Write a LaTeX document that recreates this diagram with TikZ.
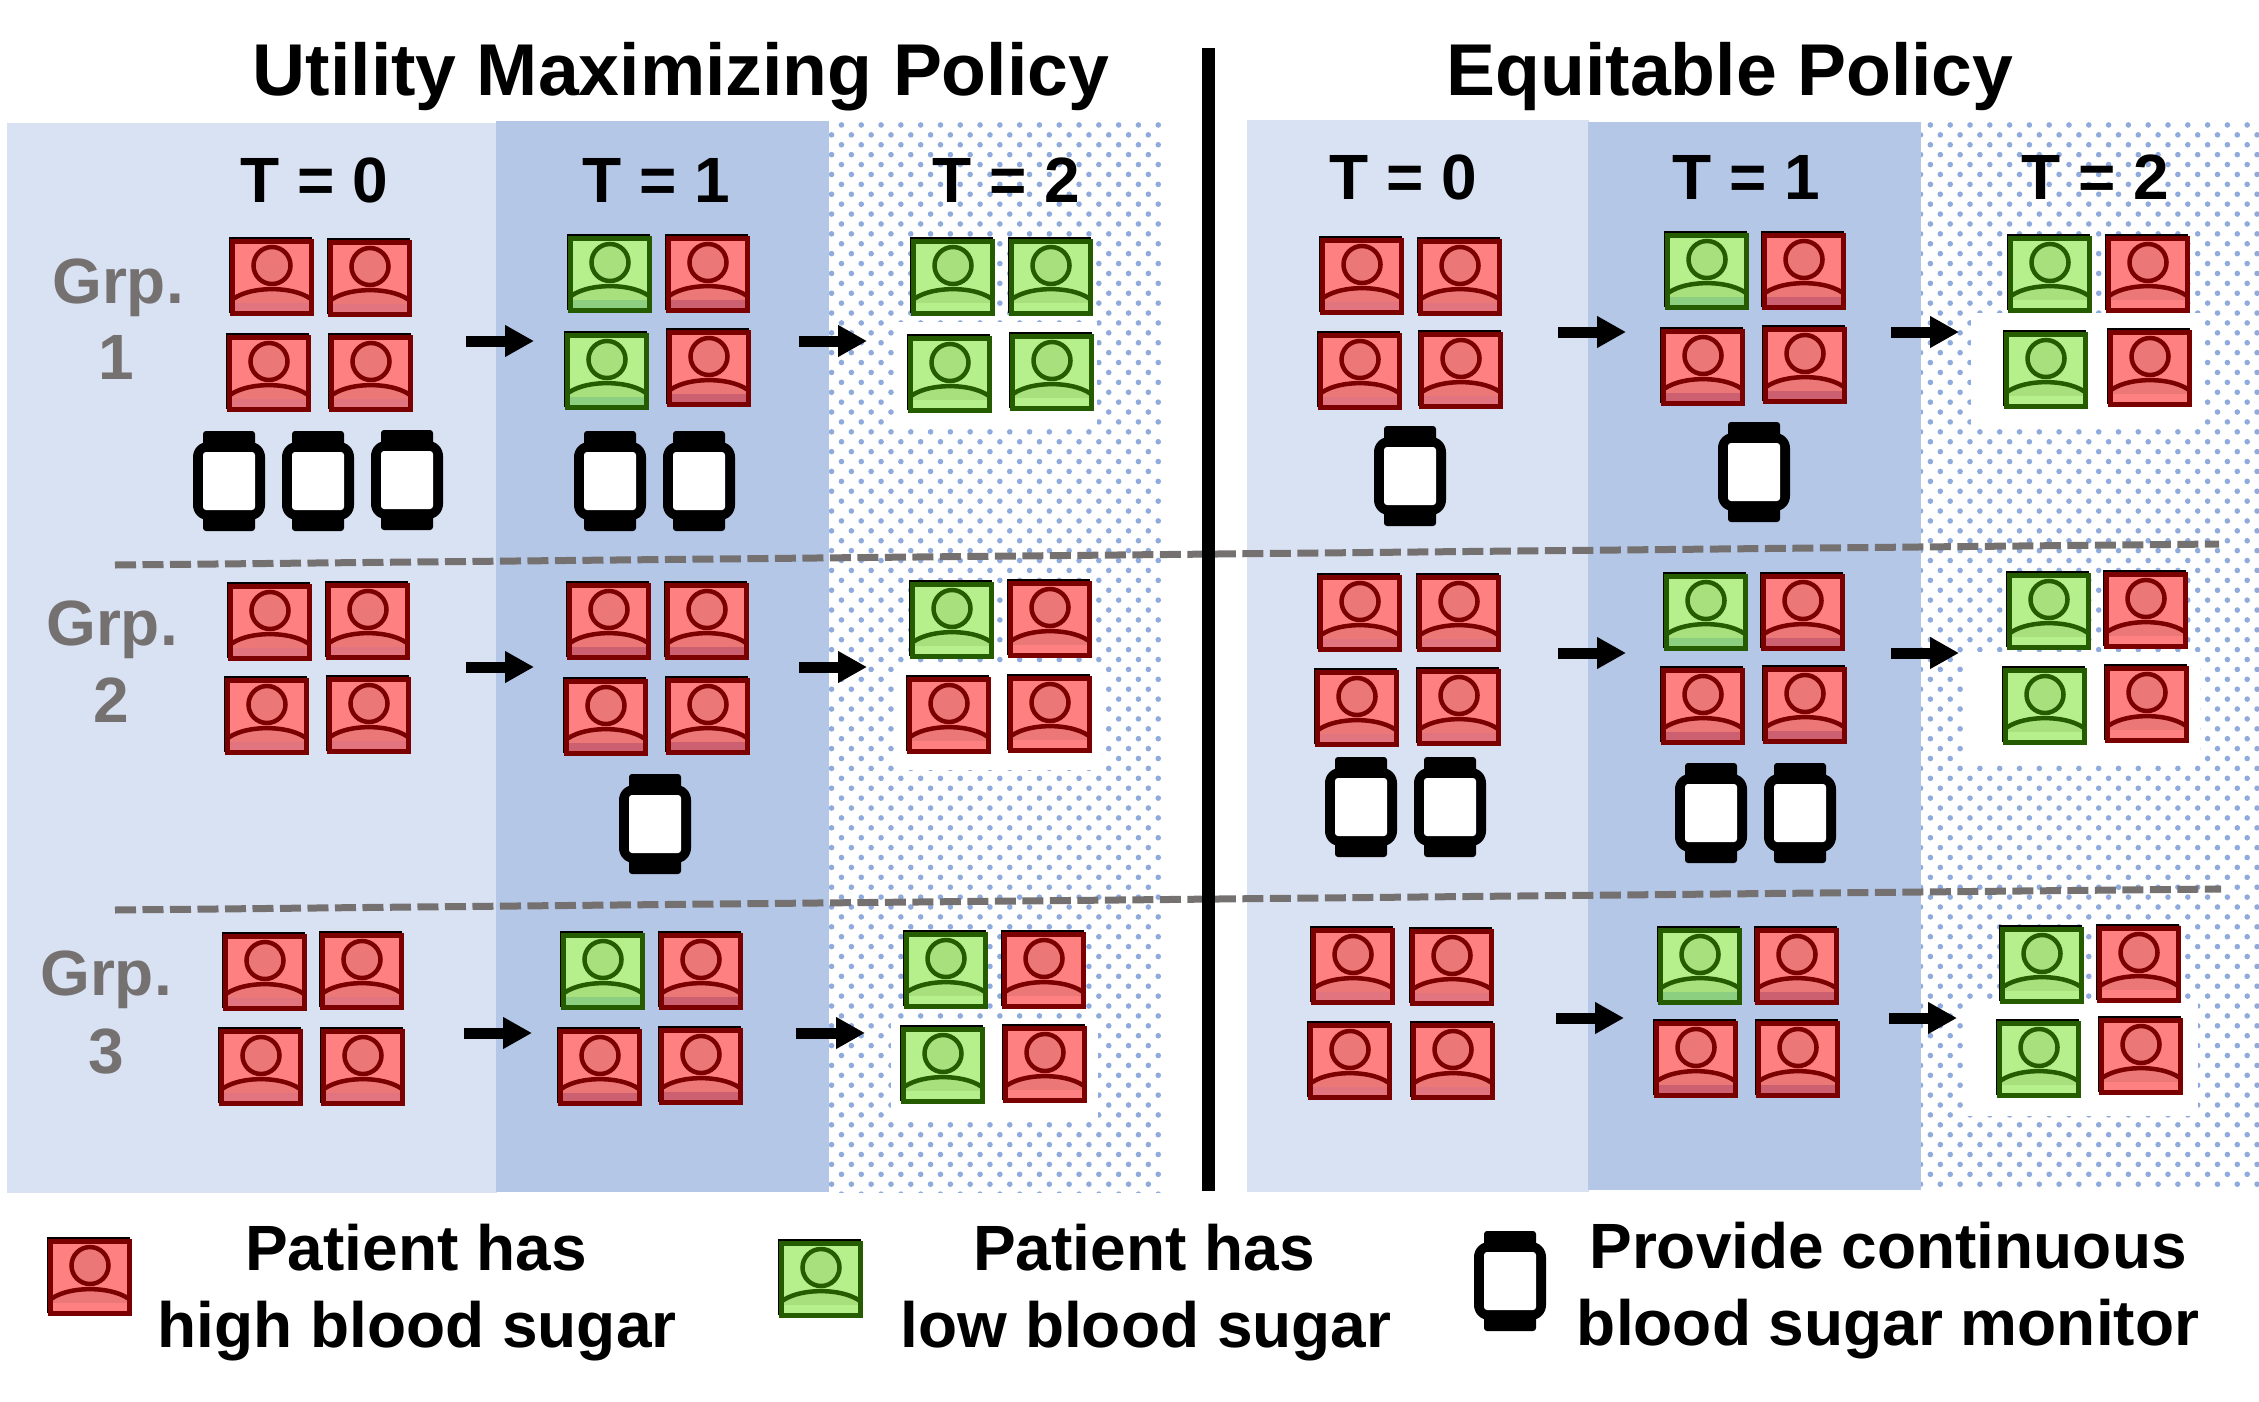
\documentclass[tikz,border=0pt]{standalone}
\usepackage{xcolor}
\usepackage{fontspec}
\usepackage{tikz}
\usetikzlibrary{arrows.meta}
\usetikzlibrary{patterns.meta}
\setmainfont{Liberation Sans}
\definecolor{panelA}{HTML}{D9E2F3}
\definecolor{panelB}{HTML}{B4C7E7}
\definecolor{dotblue}{HTML}{8FAADC}
\definecolor{rule}{HTML}{767171}
\definecolor{hiline}{HTML}{7B0000}
\definecolor{hifill}{HTML}{FF8080}
\definecolor{hibody}{HTML}{EC7777}
\definecolor{loline}{HTML}{265C00}
\definecolor{lofill}{HTML}{B6F08C}
\definecolor{lobody}{HTML}{A9E07E}

\begin{document}
\begin{tikzpicture}[x=1pt,y=-1pt]
	\tikzset{patient/.style n args={4}{shape=rectangle, inner sep=0pt, minimum width=79pt, minimum height=72pt, draw=#1, fill=#2, line width=5pt,
		preaction={draw=black, line width=4pt, transform canvas={shift={(-1.5pt,2pt)}}},
		path picture={\begin{scope}[shift={(path picture bounding box.center)}]
			\fill[#3] (-42,24.5) .. controls (-25,8) and (25,8) .. (42,24.5) -- (42,40) -- (-42,40) -- cycle;
			\fill[#4] (-42,26) rectangle (42,40);
			\draw[#1, line width=4.5pt] (-42,24.5) .. controls (-25,8) and (25,8) .. (42,24.5);
			\draw[#1, fill=#3, line width=4.5pt] (0,-11.5) circle (18.5);
		\end{scope}}}}
	\tikzset{high/.style={patient={hiline}{hifill}{hibody}{histrip}}}
	\tikzset{low/.style={patient={loline}{lofill}{lobody}{lostrip}}}
	\tikzset{watch/.style={shape=rectangle, inner sep=0pt, minimum width=72pt, minimum height=100pt,
		path picture={\begin{scope}[shift={(path picture bounding box.center)}]
			\fill[black, rounded corners=3pt] (-26,-50) rectangle (26,50);
			\fill[black, rounded corners=15pt] (-36,-39) rectangle (36,39);
			\fill[white, rounded corners=3pt] (-26,-29) rectangle (26,29);
		\end{scope}}}}
	\tikzset{title/.style={anchor=base, inner sep=0pt, font=\bfseries\fontsize{73.4}{73.4}\selectfont}}
	\tikzset{tlabel/.style={anchor=base, inner sep=0pt, font=\bfseries\fontsize{64}{64}\selectfont}}
	\tikzset{grp/.style={anchor=base, inner sep=0pt, text=rule, font=\bfseries\fontsize{64}{64}\selectfont}}
	\tikzset{legend/.style={anchor=base, inner sep=0pt, font=\bfseries\fontsize{64}{64}\selectfont}}
	\tikzset{flow/.style={line width=11pt, -{Triangle[length=29pt,width=30pt]}}}
	\tikzset{sep/.style={draw=rule, line width=7pt, dash pattern=on 21pt off 6.5pt}}
	\tikzset{dots/.style={pattern={Dots[distance=14pt,angle=45,radius=2.8pt]}, pattern color=dotblue}}

	\useasboundingbox (0,0) rectangle (2259,1402);
	\fill[white] (0,0) rectangle (2259,1402);

	\fill[panelA] (7,123) rectangle (497,1193);
	\fill[panelB] (496,121) rectangle (829,1192);
	\fill[dots] (829,122) rectangle (1164,1192);
	\fill[panelA] (1247,120) rectangle (1589,1192);
	\fill[panelB] (1588,122) rectangle (1921,1190);
	\fill[dots] (1921,122) rectangle (2259,1190);

	\fill[white] (898,322) rectangle (1097,427);
	\fill[white] (895,665) rectangle (1102,770);
	\fill[white] (891,1022) rectangle (1098,1122);
	\fill[white] (1971,313) rectangle (2202,425);
	\fill[white] (1965,652) rectangle (2200,762);
	\fill[white] (1965,1000) rectangle (2198,1116);

	\coordinate (sepa) at (115,565);
	\coordinate (sepb) at (2219,544);
	\coordinate (sepc) at (115,910);
	\coordinate (sepd) at (2221,889);
	\draw[sep] (sepa) -- (sepb);
	\draw[sep] (sepc) -- (sepd);
	\coordinate (mida) at (1208,48);
	\coordinate (midb) at (1208,1191);
	\draw[line width=13pt] (mida) -- (midb);

	\node[title] (utitle) at (681,96) {Utility Maximizing Policy};
	\node[title] (etitle) at (1730,96) {Equitable Policy};
	\node[tlabel] (ut0) at (314,202) {T = 0};
	\node[tlabel] (ut1) at (656,202) {T = 1};
	\node[tlabel] (ut2) at (1006,202) {T = 2};
	\node[tlabel] (et0) at (1403,199) {T = 0};
	\node[tlabel] (et1) at (1746,199) {T = 1};
	\node[tlabel] (et2) at (2095,199) {T = 2};
	\node[grp] (grpa) at (118,303) {Grp.};
	\node[grp] (grpan) at (116,379) {1};
	\node[grp] (grpb) at (112,645) {Grp.};
	\node[grp] (grpbn) at (111,722) {2};
	\node[grp] (grpc) at (106,995) {Grp.};
	\node[grp] (grpcn) at (106,1073) {3};

	\definecolor{histrip}{HTML}{E2747F}
	\definecolor{lostrip}{HTML}{A9E07E}
	\node[high] (u0aa) at (272,277) {};
	\node[high] (u0ab) at (370,278) {};
	\node[high] (u0ac) at (269,373) {};
	\node[high] (u0ad) at (371,373) {};
	\node[high] (u0ba) at (270,622) {};
	\node[high] (u0bb) at (368,621) {};
	\node[high] (u0bc) at (267,716) {};
	\node[high] (u0bd) at (369,715) {};
	\node[high] (u0ca) at (265,972) {};
	\node[high] (u0cb) at (362,971) {};
	\node[high] (u0cc) at (261,1067) {};
	\node[high] (u0cd) at (363,1067) {};
	\node[high] (e0aa) at (1362,276) {};
	\node[high] (e0ab) at (1460,277) {};
	\node[high] (e0ac) at (1360,371) {};
	\node[high] (e0ad) at (1461,370) {};
	\node[high] (e0ba) at (1360,613) {};
	\node[high] (e0bb) at (1459,613) {};
	\node[high] (e0bc) at (1357,708) {};
	\node[high] (e0bd) at (1459,707) {};
	\node[high] (e0ca) at (1353,966) {};
	\node[high] (e0cb) at (1452,967) {};
	\node[high] (e0cc) at (1350,1061) {};
	\node[high] (e0cd) at (1453,1061) {};

	\definecolor{histrip}{HTML}{CC6070}
	\definecolor{lostrip}{HTML}{8CCF80}
	\node[low] (u1aa) at (610,274) {};
	\node[high] (u1ab) at (708,274) {};
	\node[low] (u1ac) at (607,371) {};
	\node[high] (u1ad) at (709,368) {};
	\node[high] (u1ba) at (609,621) {};
	\node[high] (u1bb) at (707,621) {};
	\node[high] (u1bc) at (606,717) {};
	\node[high] (u1bd) at (708,716) {};
	\node[low] (u1ca) at (603,971) {};
	\node[high] (u1cb) at (701,971) {};
	\node[high] (u1cc) at (600,1067) {};
	\node[high] (u1cd) at (701,1066) {};
	\node[low] (e1aa) at (1707,271) {};
	\node[high] (e1ab) at (1804,271) {};
	\node[high] (e1ac) at (1703,367) {};
	\node[high] (e1ad) at (1805,365) {};
	\node[low] (e1ba) at (1706,612) {};
	\node[high] (e1bb) at (1803,612) {};
	\node[high] (e1bc) at (1703,706) {};
	\node[high] (e1bd) at (1805,705) {};
	\node[low] (e1ca) at (1700,966) {};
	\node[high] (e1cb) at (1797,966) {};
	\node[high] (e1cc) at (1696,1059) {};
	\node[high] (e1cd) at (1798,1059) {};

	\definecolor{histrip}{HTML}{FF8080}
	\definecolor{lostrip}{HTML}{B6F08C}
	\node[low] (u2aa) at (953,277) {};
	\node[low] (u2ab) at (1051,277) {};
	\node[low] (u2ac) at (950,374) {};
	\node[low] (u2ad) at (1052,372) {};
	\node[low] (u2ba) at (952,620) {};
	\node[high] (u2bb) at (1050,619) {};
	\node[high] (u2bc) at (949,715) {};
	\node[high] (u2bd) at (1050,714) {};
	\node[low] (u2ca) at (946,970) {};
	\node[high] (u2cb) at (1044,970) {};
	\node[low] (u2cc) at (943,1065) {};
	\node[high] (u2cd) at (1045,1064) {};
	\node[low] (e2aa) at (2050,274) {};
	\node[high] (e2ab) at (2148,274) {};
	\node[low] (e2ac) at (2046,370) {};
	\node[high] (e2ad) at (2150,368) {};
	\node[low] (e2ba) at (2049,611) {};
	\node[high] (e2bb) at (2146,610) {};
	\node[low] (e2bc) at (2045,706) {};
	\node[high] (e2bd) at (2147,704) {};
	\node[low] (e2ca) at (2042,965) {};
	\node[high] (e2cb) at (2139,964) {};
	\node[low] (e2cc) at (2039,1059) {};
	\node[high] (e2cd) at (2141,1056) {};

	\node[watch] (uwa) at (229,481) {};
	\node[watch] (uwb) at (318,481) {};
	\node[watch] (uwc) at (407,480) {};
	\node[watch] (uwd) at (610,481) {};
	\node[watch] (uwe) at (699,481) {};
	\node[watch] (uwf) at (655,824) {};
	\node[watch] (ewa) at (1410,476) {};
	\node[watch] (ewb) at (1754,472) {};
	\node[watch] (ewc) at (1361,807) {};
	\node[watch] (ewd) at (1450,807) {};
	\node[watch] (ewe) at (1711,813) {};
	\node[watch] (ewf) at (1800,813) {};

	\coordinate (ua1) at (466,341);
	\coordinate (ua2) at (534,341);
	\coordinate (ua3) at (799,341);
	\coordinate (ua4) at (867,341);
	\coordinate (ub1) at (466,667);
	\coordinate (ub2) at (534,667);
	\coordinate (ub3) at (799,667);
	\coordinate (ub4) at (867,667);
	\coordinate (uc1) at (464,1033);
	\coordinate (uc2) at (532,1033);
	\coordinate (uc3) at (796,1033);
	\coordinate (uc4) at (865,1033);
	\coordinate (ea1) at (1558,332);
	\coordinate (ea2) at (1626,332);
	\coordinate (ea3) at (1891,332);
	\coordinate (ea4) at (1959,332);
	\coordinate (eb1) at (1558,653);
	\coordinate (eb2) at (1626,653);
	\coordinate (eb3) at (1891,653);
	\coordinate (eb4) at (1959,653);
	\coordinate (ec1) at (1556,1018);
	\coordinate (ec2) at (1624,1018);
	\coordinate (ec3) at (1889,1018);
	\coordinate (ec4) at (1957,1018);
	\draw[flow] (ua1) -- (ua2);
	\draw[flow] (ua3) -- (ua4);
	\draw[flow] (ub1) -- (ub2);
	\draw[flow] (ub3) -- (ub4);
	\draw[flow] (uc1) -- (uc2);
	\draw[flow] (uc3) -- (uc4);
	\draw[flow] (ea1) -- (ea2);
	\draw[flow] (ea3) -- (ea4);
	\draw[flow] (eb1) -- (eb2);
	\draw[flow] (eb3) -- (eb4);
	\draw[flow] (ec1) -- (ec2);
	\draw[flow] (ec3) -- (ec4);

	\node[high] (keyhigh) at (90,1277) {};
	\node[low] (keylow) at (821,1279) {};
	\node[watch] (keywatch) at (1510,1281) {};
	\node[legend] (keyhighb) at (416,1270) {Patient has};
	\node[legend] (keyhighc) at (417,1347) {high blood sugar};
	\node[legend] (keylowb) at (1144,1270) {Patient has};
	\node[legend] (keylowc) at (1146,1347) {low blood sugar};
	\node[legend] (keywatchb) at (1888,1268) {Provide continuous};
	\node[legend] (keywatchc) at (1888,1345) {blood sugar monitor};
\end{tikzpicture}
\end{document}
